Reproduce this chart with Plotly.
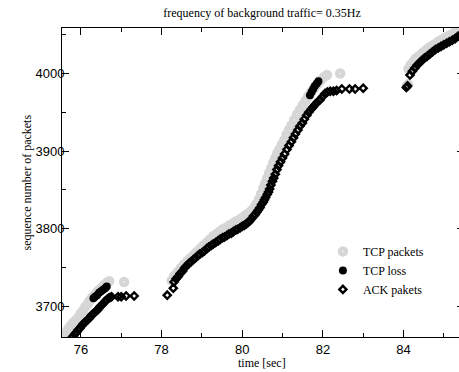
import plotly.graph_objects as go

# ---- data (time [s], sequence number) ----
# TCP packets (light grey open circles)
pkt_t = [75.56, 75.62, 75.68, 75.74, 75.80, 75.86, 75.93, 75.99, 76.05, 76.11,
         76.17, 76.22, 76.28, 76.34, 76.40, 76.46, 76.52, 76.58, 76.64, 76.70,
         77.07,
         78.25, 78.32, 78.40, 78.48, 78.56, 78.64, 78.72, 78.80, 78.88, 78.96,
         79.04, 79.12, 79.20, 79.28, 79.36, 79.44, 79.52, 79.60, 79.68, 79.76,
         79.84, 79.92, 80.00, 80.08, 80.16, 80.23, 80.30, 80.36, 80.42, 80.47,
         80.52, 80.57, 80.62, 80.67, 80.72, 80.77, 80.82, 80.87, 80.92, 80.98,
         81.04, 81.10, 81.16, 81.22, 81.29, 81.36, 81.43, 81.50, 81.57, 81.64,
         81.71, 81.78, 81.86, 81.94, 82.02, 82.10,
         82.43,
         84.08, 84.11,
         84.12, 84.18, 84.24, 84.30, 84.37, 84.44, 84.51, 84.58, 84.65, 84.72,
         84.79, 84.86, 84.93, 85.00, 85.07, 85.14, 85.21, 85.28, 85.35, 85.42]
pkt_seq = [3661, 3665, 3670, 3674, 3678, 3681, 3685, 3690, 3694, 3699,
           3703, 3707, 3711, 3714, 3718, 3721, 3724, 3727, 3730, 3732,
           3731,
           3733, 3739, 3744, 3749, 3754, 3758, 3762, 3766, 3770, 3774,
           3778, 3782, 3786, 3790, 3793, 3796, 3799, 3801, 3804, 3806,
           3809, 3811, 3814, 3817, 3820, 3823, 3827, 3832, 3838, 3845,
           3852, 3858, 3865, 3872, 3878, 3885, 3891, 3897, 3902, 3908,
           3914, 3921, 3927, 3933, 3940, 3947, 3953, 3959, 3965, 3971,
           3976, 3981, 3986, 3991, 3995, 3998,
           4000,
           3984, 3986,
           4006, 4011, 4015, 4019, 4022, 4025, 4028, 4031, 4034, 4036,
           4038, 4041, 4043, 4045, 4047, 4049, 4051, 4053, 4055, 4057]

# TCP loss (black filled circles)
loss_t = [76.31, 76.35, 76.40, 76.45, 76.50, 76.55, 76.60, 76.64,
          81.68, 81.72, 81.76, 81.80, 81.85, 81.89]
loss_seq = [3710, 3712, 3714, 3717, 3719, 3721, 3723, 3725,
            3972, 3976, 3980, 3984, 3987, 3990]

# ACK pakets (black open diamonds)
ack_t = [75.77, 75.81, 75.85, 75.89, 75.93, 75.97, 76.01, 76.06, 76.10, 76.14,
         76.18, 76.22, 76.26, 76.30, 76.35, 76.39, 76.43, 76.47, 76.51, 76.55,
         76.60, 76.64, 76.68, 76.72, 76.76, 76.92, 77.00, 77.12, 77.32,
         78.14, 78.29,
         78.31, 78.36, 78.41, 78.46, 78.52, 78.57, 78.62, 78.68, 78.73, 78.79,
         78.84, 78.90, 78.95, 79.01, 79.06, 79.12, 79.17, 79.23, 79.28, 79.34,
         79.40, 79.45, 79.51, 79.56, 79.62, 79.67, 79.73, 79.78, 79.84, 79.89,
         79.95, 80.00, 80.05, 80.10, 80.15, 80.19, 80.24, 80.28, 80.32, 80.36,
         80.40, 80.44, 80.48, 80.52, 80.55, 80.58, 80.62, 80.65, 80.68, 80.71,
         80.75, 80.78, 80.82, 80.86, 80.90, 80.95, 81.00, 81.05, 81.11, 81.16,
         81.22, 81.27, 81.32, 81.38, 81.43, 81.49, 81.54, 81.60, 81.65, 81.71,
         81.76, 81.81, 81.86, 81.93, 81.99, 82.05, 82.11, 82.18, 82.26, 82.34,
         82.47, 82.66, 82.80, 83.00,
         84.07, 84.10,
         84.16, 84.22, 84.28, 84.34, 84.40, 84.46, 84.52, 84.58, 84.65, 84.72,
         84.79, 84.86, 84.93, 85.00, 85.07, 85.14, 85.21, 85.28, 85.35, 85.42]
ack_seq = [3659, 3661, 3664, 3666, 3669, 3671, 3674, 3677, 3679, 3681,
           3683, 3685, 3688, 3690, 3692, 3694, 3696, 3699, 3701, 3703,
           3706, 3708, 3710, 3711, 3712, 3712, 3712, 3713, 3713,
           3714, 3723,
           3731, 3735, 3738, 3742, 3745, 3749, 3752, 3755, 3757, 3760,
           3762, 3765, 3767, 3769, 3771, 3774, 3776, 3778, 3780, 3782,
           3784, 3786, 3788, 3789, 3791, 3793, 3794, 3796, 3798, 3799,
           3801, 3803, 3804, 3806, 3808, 3810, 3813, 3816, 3818, 3821,
           3824, 3827, 3831, 3834, 3837, 3840, 3844, 3847, 3851, 3856,
           3861, 3865, 3870, 3876, 3881, 3886, 3891, 3896, 3902, 3907,
           3912, 3917, 3922, 3927, 3932, 3936, 3941, 3946, 3950, 3954,
           3957, 3960, 3963, 3966, 3970, 3974, 3976, 3977, 3977, 3978,
           3980, 3980, 3980, 3981,
           3982, 3984,
           3998, 4003, 4007, 4011, 4014, 4017, 4020, 4022, 4025, 4028,
           4031, 4033, 4035, 4037, 4039, 4041, 4043, 4045, 4048, 4050]

x_ticks = [76, 78, 80, 82, 84]
y_ticks = [3700, 3800, 3900, 4000]

SERIF = "Liberation Serif, Times New Roman, serif"
SANS = "Liberation Sans, Arial, sans-serif"

fig = go.Figure()
fig.add_trace(go.Scatter(
    x=pkt_t, y=pkt_seq, mode="markers", name="TCP packets",
    marker=dict(symbol="circle-open", size=6, color="#d6d6d6",
                line=dict(width=4.5, color="#d6d6d6"))))
fig.add_trace(go.Scatter(
    x=loss_t, y=loss_seq, mode="markers", name="TCP loss",
    marker=dict(symbol="circle", size=8, color="black")))
fig.add_trace(go.Scatter(
    x=ack_t, y=ack_seq, mode="markers", name="ACK pakets",
    marker=dict(symbol="diamond-open", size=5.5, color="black",
                line=dict(width=2.4, color="black"))))

axis_common = dict(
    showline=True, linecolor="black", linewidth=1, mirror="allticks",
    ticks="inside", ticklen=7, tickwidth=1, tickcolor="black",
    showgrid=False, zeroline=False, automargin=False,
    tickfont=dict(family=SANS, size=13, color="black"),
)

fig.update_xaxes(
    range=[75.53, 85.5], tickvals=x_ticks,
    minor=dict(dtick=1, ticks="inside", ticklen=4, tickcolor="black", showgrid=False),
    **axis_common)
fig.update_yaxes(
    range=[3660, 4058.7], tickvals=y_ticks, ticklabelstandoff=-6,
    minor=dict(dtick=50, ticks="inside", ticklen=4, tickcolor="black", showgrid=False),
    **axis_common)

title_font = dict(family=SERIF, size=12, color="black")
fig.add_annotation(text="time [sec]", xref="paper", yref="paper",
                   x=(262 - 62) / 402, y=-(362.5 - 337) / 309,
                   xanchor="center", yanchor="middle", showarrow=False,
                   font=title_font)
fig.add_annotation(text="sequence number of packets", xref="paper", yref="paper",
                   x=-(62 - 26) / 402, y=0.5, textangle=-90,
                   xanchor="center", yanchor="middle", showarrow=False,
                   font=title_font)

fig.update_layout(
    width=464, height=372,
    margin=dict(l=62, r=0, t=28, b=35, autoexpand=False),
    paper_bgcolor="white", plot_bgcolor="white",
    title=dict(text="frequency of background traffic= 0.35Hz",
               font=title_font,
               x=262 / 464, xanchor="center", y=1 - 13 / 372, yanchor="middle"),
    showlegend=True,
    legend=dict(x=0.649, y=0.324, xanchor="left", yanchor="top",
                bgcolor="rgba(0,0,0,0)", borderwidth=0,
                font=dict(family=SERIF, size=12, color="black"),
                itemwidth=30),
)

fig.write_html("out.html", config={"displayModeBar": False},
               post_script="document.body.style.margin='0px';")
